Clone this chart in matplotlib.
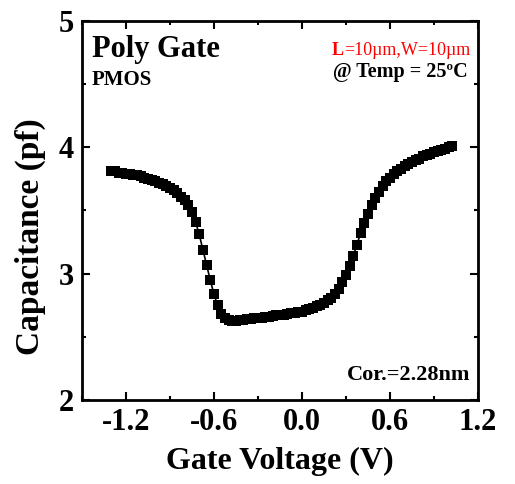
import matplotlib
matplotlib.use("Agg")
import matplotlib.pyplot as plt
from matplotlib.ticker import MultipleLocator

# gate voltage (V), 25 mV steps
gate_v = [-1.300, -1.275, -1.250, -1.225, -1.200, -1.175, -1.150, -1.125, -1.100, -1.075,
          -1.050, -1.025, -1.000, -0.975, -0.950, -0.925, -0.900, -0.875, -0.850, -0.825,
          -0.800, -0.775, -0.750, -0.725, -0.700, -0.675, -0.650, -0.625, -0.600, -0.575,
          -0.550, -0.525, -0.500, -0.475, -0.450, -0.425, -0.400, -0.375, -0.350, -0.325,
          -0.300, -0.275, -0.250, -0.225, -0.200, -0.175, -0.150, -0.125, -0.100, -0.075,
          -0.050, -0.025, 0.000, 0.025, 0.050, 0.075, 0.100, 0.125, 0.150, 0.175,
          0.200, 0.225, 0.250, 0.275, 0.300, 0.325, 0.350, 0.375, 0.400, 0.425,
          0.450, 0.475, 0.500, 0.525, 0.550, 0.575, 0.600, 0.625, 0.650, 0.675,
          0.700, 0.725, 0.750, 0.775, 0.800, 0.825, 0.850, 0.875, 0.900, 0.925,
          0.950, 0.975, 1.000, 1.025]
# capacitance (pf)
cap = [3.81, 3.81, 3.80, 3.80, 3.79, 3.79, 3.78, 3.78, 3.77, 3.76,
       3.75, 3.74, 3.73, 3.72, 3.71, 3.69, 3.68, 3.66, 3.64, 3.61,
       3.58, 3.54, 3.49, 3.41, 3.31, 3.19, 3.07, 2.95, 2.84, 2.75,
       2.68, 2.645, 2.63, 2.625, 2.625, 2.63, 2.635, 2.64, 2.64, 2.645,
       2.65, 2.65, 2.655, 2.66, 2.665, 2.67, 2.67, 2.675, 2.68, 2.685,
       2.69, 2.695, 2.70, 2.71, 2.72, 2.73, 2.74, 2.755, 2.77, 2.79,
       2.81, 2.84, 2.88, 2.93, 2.99, 3.06, 3.14, 3.23, 3.32, 3.40,
       3.47, 3.54, 3.60, 3.65, 3.69, 3.73, 3.76, 3.79, 3.81, 3.83,
       3.85, 3.87, 3.88, 3.90, 3.91, 3.93, 3.94, 3.95, 3.96, 3.97,
       3.98, 3.99, 4.00, 4.01]

x_ticks = [-1.2, -0.6, 0.0, 0.6, 1.2]
x_tick_labels = ["-1.2", "-0.6", "0.0", "0.6", "1.2"]
y_ticks = [2, 3, 4, 5]

plt.rcParams["font.family"] = ["Liberation Serif", "DejaVu Serif"]
plt.rcParams["font.weight"] = "bold"

fig = plt.figure(figsize=(5.15, 4.84), dpi=100)
ax = fig.add_axes([0.159, 0.1736, 0.769, 0.783])

ax.plot(gate_v, cap, color="black", lw=1.2, marker="s", ms=6.5,
        markeredgewidth=0, markerfacecolor="black")

ax.set_xlim(-1.5, 1.2)
ax.set_ylim(2, 5)
ax.set_xticks(x_ticks)
ax.set_xticklabels(x_tick_labels)
ax.set_yticks(y_ticks)
ax.xaxis.set_minor_locator(MultipleLocator(0.3))
ax.yaxis.set_minor_locator(MultipleLocator(0.5))

ax.tick_params(which="both", direction="in", top=True, right=True, width=1.5)
ax.tick_params(which="major", length=6, labelsize=22, pad=6)
ax.tick_params(which="minor", length=3)
for lbl in ax.get_xticklabels() + ax.get_yticklabels():
    lbl.set_fontweight("bold")
for s in ax.spines.values():
    s.set_linewidth(2)

ax.set_xlabel("Gate Voltage (V)", fontsize=23, fontweight="bold", labelpad=7)
ax.set_ylabel("Capacitance (pf)", fontsize=24, fontweight="bold")
ax.yaxis.set_label_coords(-0.09, 0.43)

ax.text(0.025, 0.905, "Poly Gate", transform=ax.transAxes, fontsize=22,
        fontweight="bold", va="baseline", ha="left")
ax.text(0.025, 0.83, "PMOS", transform=ax.transAxes, fontsize=15,
        fontweight="bold", va="baseline", ha="left")

rest = ax.text(0.98, 0.9, "=10\u00b5m,W=10\u00b5m", transform=ax.transAxes,
               fontsize=13, fontweight="normal", color="red",
               va="bottom", ha="right")
ax.annotate("L", xy=(0, 0), xycoords=rest, fontsize=13, fontweight="bold",
            color="red", va="bottom", ha="right")
ax.text(0.975, 0.852, "@ Temp = 25\u00baC", transform=ax.transAxes, fontsize=14.5,
        fontweight="bold", va="baseline", ha="right")
ax.text(0.98, 0.053, "Cor.=2.28nm", transform=ax.transAxes, fontsize=16,
        fontweight="bold", va="baseline", ha="right")

fig.savefig("out.png", dpi=100)
